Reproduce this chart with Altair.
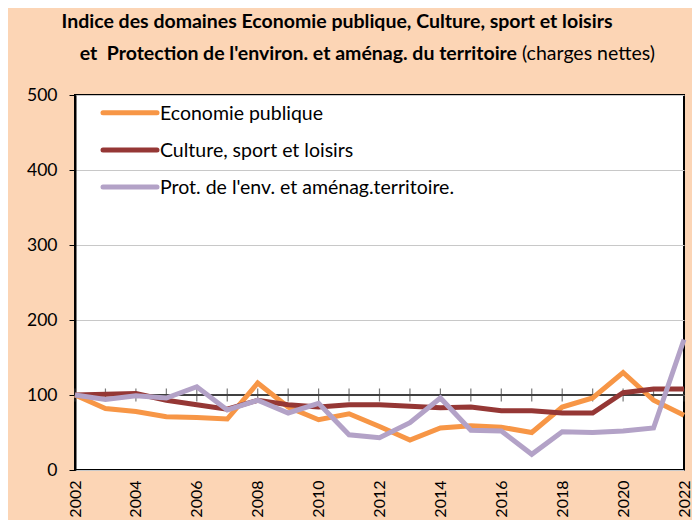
import altair as alt
import pandas as pd

years = list(range(2002, 2023))
economie = [100, 82, 78, 71, 70, 68, 116, 84, 67, 75, 58, 40, 56, 59, 57, 50, 84, 96, 130, 93, 73]
culture = [100, 101, 102, 93, 87, 81, 93, 87, 84, 87, 87, 85, 83, 84, 79, 79, 76, 76, 103, 108, 108]
protection = [100, 94, 99, 96, 111, 80, 93, 76, 89, 47, 43, 63, 96, 53, 52, 21, 51, 50, 52, 56, 174]

series_names = ["Economie publique", "Culture, sport et loisirs", "Prot. de l'env. et aménag.territoire."]
series_colors = ["#F79646", "#953735", "#B3A2C7"]
y_ticks = [0, 100, 200, 300, 400, 500]
x_labels = list(range(2002, 2023, 2))

title_line1 = "Indice des domaines Economie publique, Culture, sport et loisirs"
title_line2_bold = "et \u00a0Protection de l'environ. et aménag. du territoire"
title_line2_reg = "(charges nettes)"

FONT = "Lato"

rows = []
for name, vals in zip(series_names, [economie, culture, protection]):
    for yr, v in zip(years, vals):
        rows.append({"annee": yr, "indice": v, "serie": name})
df = pd.DataFrame(rows)
df_years = pd.DataFrame({"annee": years})

W, H = 609, 375

x_scale = alt.Scale(domain=[2002, 2022], nice=False, zero=False)
y_scale = alt.Scale(domain=[0, 500], nice=False)

base_axis_x = alt.Axis(values=x_labels, format="d", labelAngle=-90, labelAlign="right",
                       labelBaseline="middle", ticks=False, grid=False, domain=False,
                       labelFontSize=16, labelFont=FONT, labelColor="black", labelPadding=10,
                       labelOverlap=False, title=None)
base_axis_y = alt.Axis(values=y_ticks, tickSize=6, tickColor="black", tickWidth=1,
                       grid=True, gridColor="#C8C8C8", gridWidth=1, domain=True,
                       domainColor="black", domainWidth=2,
                       labelFontSize=17.5, labelFont=FONT, labelColor="black", labelPadding=12,
                       title=None)

# horizontal axis line at 100 with ticks at each year
rule100 = alt.Chart(df_years).mark_rule(color="#404040", strokeWidth=1.2).encode(
    y=alt.datum(100, scale=y_scale)
)
ticks100 = alt.Chart(df_years).mark_tick(color="#404040", thickness=1.2, size=13,
                                         orient="vertical").encode(
    x=alt.X("annee:Q", scale=x_scale, axis=base_axis_x),
    y=alt.datum(100, scale=y_scale, axis=base_axis_y),
)

lines = alt.Chart(df).mark_line(strokeWidth=5).encode(
    x=alt.X("annee:Q", scale=x_scale, axis=base_axis_x),
    y=alt.Y("indice:Q", scale=y_scale, axis=base_axis_y),
    color=alt.Color("serie:N", sort=series_names,
                    scale=alt.Scale(domain=series_names, range=series_colors),
                    legend=None),
    detail="serie:N",
)

# legend drawn inside the plot area (top-left)
legend_layers = []
legend_rows_y = [17.7, 55, 92]
for name, col, ly in zip(series_names, series_colors, legend_rows_y):
    ldf = pd.DataFrame({"serie": [name]})
    legend_layers.append(
        alt.Chart(ldf).mark_rule(color=col, strokeWidth=5, strokeCap="round").encode(
            x=alt.value(28), x2=alt.value(82), y=alt.value(ly))
    )
    legend_layers.append(
        alt.Chart(ldf).mark_text(fontSize=19.5, font=FONT, color="black", align="left",
                                 baseline="middle", dy=1).encode(
            text="serie:N", x=alt.value(85), y=alt.value(ly))
    )

title_df = pd.DataFrame({"t1": [title_line1], "t2b": [title_line2_bold], "t2r": [title_line2_reg]})
t1 = alt.Chart(title_df).mark_text(fontSize=19.5, fontWeight="bold", font=FONT, color="black",
                                   align="center", baseline="middle").encode(
    text="t1:N", x=alt.value(262), y=alt.value(-73))
t2b = alt.Chart(title_df).mark_text(fontSize=19.5, fontWeight="bold", font=FONT, color="black",
                                    align="right", baseline="middle").encode(
    text="t2b:N", x=alt.value(442), y=alt.value(-41))
t2r = alt.Chart(title_df).mark_text(fontSize=19.5, fontWeight="normal", font=FONT, color="black",
                                    align="left", baseline="middle").encode(
    text="t2r:N", x=alt.value(447), y=alt.value(-41))

chart = alt.layer(rule100, ticks100, lines, *legend_layers, t1, t2b, t2r).properties(
    width=W, height=H,
    background="#FCD5B5",
    padding={"left": 67, "top": 87, "right": 8, "bottom": 50},
    autosize=alt.AutoSizeParams(type="none"),
).configure_view(
    fill="white", stroke="black", strokeWidth=2
)

chart.save("out.html", embed_options={"renderer": "svg", "actions": False})
